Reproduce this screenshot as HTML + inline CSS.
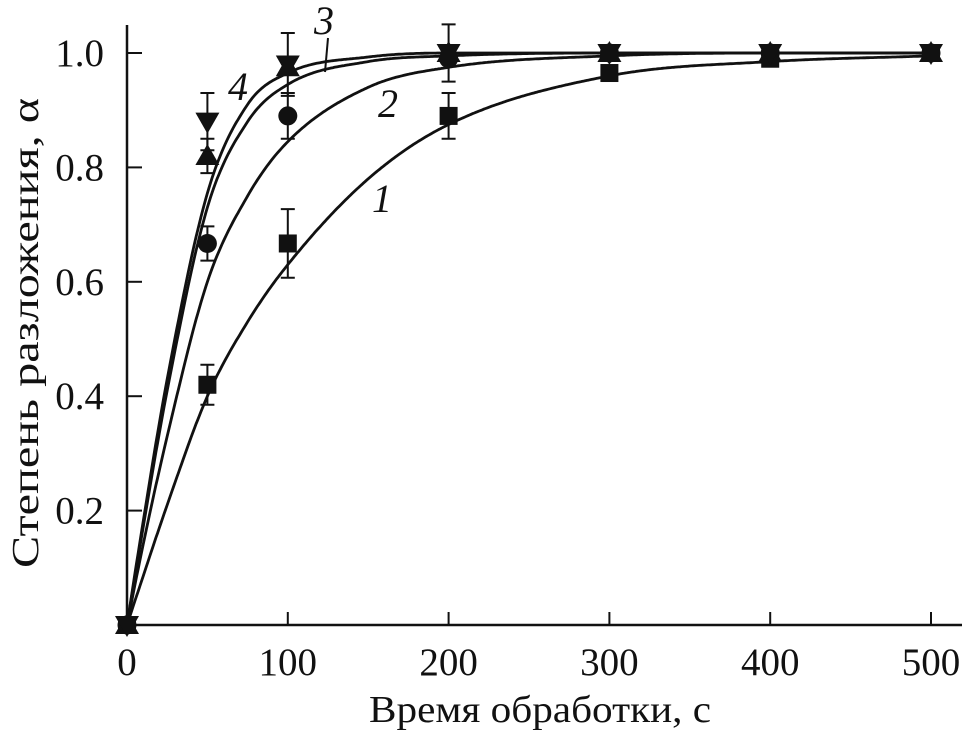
<!DOCTYPE html>
<html><head><meta charset="utf-8">
<style>
body{margin:0;background:#fff;}
svg{display:block;font-family:"Liberation Serif",serif;}
</style></head><body>
<svg id="chart" width="966" height="732" viewBox="0 0 966 732">
<g id="axes"></g><g id="curves"></g><g id="points"></g>
<text x="540" y="722" font-size="38" text-anchor="middle" textLength="342" lengthAdjust="spacingAndGlyphs" fill="#111">Время обработки, с</text>
<text transform="translate(38,333) rotate(-90)" font-size="38" text-anchor="middle" textLength="470" lengthAdjust="spacingAndGlyphs" fill="#111">Степень разложения, α</text>
<g font-style="italic" font-size="40" fill="#111">
<text x="372" y="212">1</text>
<text x="378" y="117">2</text>
<text x="314" y="34">3</text>
<text x="228" y="100">4</text>
</g>
<line x1="328" y1="38" x2="325" y2="72" stroke="#111" stroke-width="2"/>
</svg>
<script>
const xTicks=[0,100,200,300,400,500];
const yTicks=[0.2,0.4,0.6,0.8,1.0];
const times=[0,50,100,200,300,400,500];
const s1=[0,0.42,0.667,0.89,0.965,0.99,1.0];
const s2=[0,0.667,0.89,0.99,1.0,1.0,1.0];
const s3=[0,0.82,0.975,1.0,1.0,1.0,1.0];
const s4=[0,0.88,0.98,1.0,1.0,1.0,1.0];
const e1=[0,0.035,0.06,0.04,0,0,0];
const e2=[0,0.03,0.04,0,0,0,0];
const e3=[0,0.03,0,0,0,0,0];
const e4=[0,0.05,0.055,0.05,0,0,0];
const curveT=[0,10,25,50,75,100,150,200,300,400,500];
const c1=[0,0.085,0.21,0.40,0.53,0.63,0.78,0.875,0.96,0.985,0.995];
const c2=[0,0.14,0.33,0.60,0.75,0.845,0.94,0.975,0.995,1.0,1.0];
const c3=[0,0.17,0.41,0.73,0.88,0.945,0.985,0.995,1.0,1.0,1.0];
const c4=[0,0.18,0.43,0.755,0.91,0.965,0.993,1.0,1.0,1.0,1.0];
const NS="http://www.w3.org/2000/svg";
const X=v=>127+v*1.608, Y=v=>625-v*572;
function mk(tag,attrs,parent){const e=document.createElementNS(NS,tag);for(const k in attrs)e.setAttribute(k,attrs[k]);parent.appendChild(e);return e;}
function monotone(xs,ys){const n=xs.length,d=[],m=[];
 for(let i=0;i<n-1;i++)d.push((ys[i+1]-ys[i])/(xs[i+1]-xs[i]));
 m[0]=d[0];m[n-1]=d[n-2];
 for(let i=1;i<n-1;i++)m[i]=(d[i-1]*d[i]<=0)?0:(d[i-1]+d[i])/2;
 for(let i=0;i<n-1;i++){if(d[i]===0){m[i]=0;m[i+1]=0;continue;}const a=m[i]/d[i],b=m[i+1]/d[i],s=a*a+b*b;if(s>9){const t=3/Math.sqrt(s);m[i]=t*a*d[i];m[i+1]=t*b*d[i];}}
 return x=>{let i=0;while(i<n-2&&x>xs[i+1])i++;const h=xs[i+1]-xs[i],t=(x-xs[i])/h,t2=t*t,t3=t2*t;
  return (2*t3-3*t2+1)*ys[i]+(t3-2*t2+t)*h*m[i]+(-2*t3+3*t2)*ys[i+1]+(t3-t2)*h*m[i+1];};}
const ax=document.getElementById('axes');
let l=mk('line',{x1:127,y1:625,x2:962,y2:625,stroke:'#111','stroke-width':2.5},ax);


l=mk('line',{x1:127,y1:25,x2:127,y2:625,stroke:'#111','stroke-width':2.5},ax);


xTicks.forEach(t=>{
 if(t>0){const tk=mk('line',{x1:X(t),y1:625,x2:X(t),y2:612,stroke:'#111','stroke-width':2},ax);
 
 }
 const tx=mk('text',{x:X(t),y:675,'font-size':39,'text-anchor':'middle',fill:'#111'},ax);tx.textContent=t;
 
 
});
yTicks.forEach(t=>{
 const tk=mk('line',{x1:127,y1:Y(t),x2:142,y2:Y(t),stroke:'#111','stroke-width':2},ax);
 
 
 const tx=mk('text',{x:104,y:Y(t)+13,'font-size':39,'text-anchor':'end',fill:'#111'},ax);tx.textContent=t.toFixed(1);
 
 
});
const cg=document.getElementById('curves');
[c1,c2,c3,c4].forEach((c,i)=>{const f=monotone(curveT,c);let d='';for(let t=0;t<=500;t+=1){d+=(t?'L':'M')+X(t).toFixed(1)+','+Y(f(t)).toFixed(1);}
 const p=mk('path',{d:d,fill:'none',stroke:'#111','stroke-width':2.8},cg);
 
 });
const pg=document.getElementById('points');
const series=[[s1,e1,'square'],[s2,e2,'circle'],[s3,e3,'up'],[s4,e4,'down']];
series.forEach(([s,e,shape],si)=>{
 s.forEach((v,i)=>{const cx=X(times[i]),cy=Y(v);
  if(e[i]>0){const g=mk('path',{d:`M${cx},${cy}V${Y(v+e[i])}M${cx-7},${Y(v+e[i])}H${cx+7}M${cx},${cy}V${Y(v-e[i])}M${cx-7},${Y(v-e[i])}H${cx+7}`,stroke:'#111','stroke-width':2,fill:'none'},pg);
   
   }
  let m;
  if(shape==='square')m=mk('rect',{x:cx-9,y:cy-9,width:18,height:18,fill:'#111'},pg);
  else if(shape==='circle')m=mk('circle',{cx:cx,cy:cy,r:9.5,fill:'#111'},pg);
  else if(shape==='up')m=mk('path',{d:`M${cx},${cy-12}L${cx+12},${cy+9}L${cx-12},${cy+9}Z`,fill:'#111'},pg);
  else m=mk('path',{d:`M${cx},${cy+12}L${cx+12},${cy-9}L${cx-12},${cy-9}Z`,fill:'#111'},pg);
  
  
 });
});
</script>
</body></html>
